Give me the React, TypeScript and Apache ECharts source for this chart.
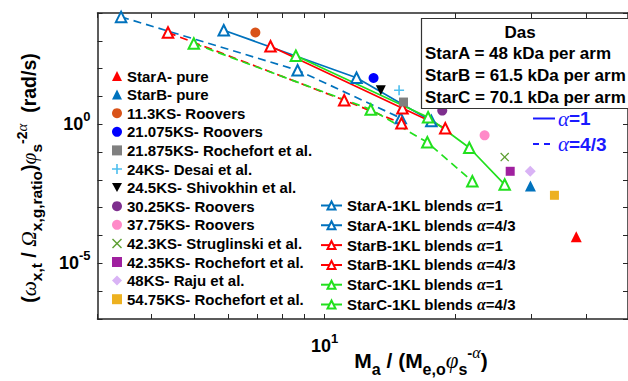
import React, { useEffect, useRef } from "react";
import * as echarts from "echarts";

const FONT = '"Liberation Sans", Arial, Helvetica, sans-serif';
const SERIF = '"Liberation Serif", "DejaVu Serif", serif';

// Axis ranges and ticks
const X_MIN = 3;
const X_MAX = 50;
const Y_MIN = 1e-7;
const Y_MAX = 1e4;
const xTickValues = [3, 4, 5, 6, 7, 8, 9, 10, 20, 30, 40, 50];
const xLabelValues = [10];
const yTickValues = [1e-7, 1e-6, 1e-5, 1e-4, 1e-3, 1e-2, 1e-1, 1, 10, 100, 1000, 1e4];
const yLabelValues = [1e-5, 1];

// Literature / pure star points (one point each)
const pointNames = [
  "StarA- pure",
  "StarB- pure",
  "11.3KS- Roovers",
  "21.075KS- Roovers",
  "21.875KS- Rochefort et al.",
  "24KS- Desai et al.",
  "24.5KS- Shivokhin et al.",
  "30.25KS- Roovers",
  "37.75KS- Roovers",
  "42.3KS- Struglinski et al.",
  "42.35KS- Rochefort et al.",
  "48KS- Raju et al.",
  "54.75KS- Rochefort et al.",
];
const pointX = [38.0, 29.8, 6.93, 12.97, 15.2, 14.85, 13.48, 18.67, 23.37, 26.0, 26.77, 29.77, 33.85];
const pointY = [9.0e-5, 0.0061, 1990, 46, 6.3, 16.7, 16.7, 3.1, 0.4, 0.066, 0.0204, 0.0204, 0.0028];

// Blend series
const blendNames = [
  "StarA-1KL blends α=1",
  "StarA-1KL blends α=4/3",
  "StarB-1KL blends α=1",
  "StarB-1KL blends α=4/3",
  "StarC-1KL blends α=1",
  "StarC-1KL blends α=4/3",
];
const starA_a1 = [[5.86, 2405], [11.85, 47], [17.62, 1.31]];
const starA_a43 = [[3.4, 7240], [8.67, 87.6], [14.98, 1.67]];
const starB_a1 = [[7.51, 640], [15.12, 3.76], [18.97, 0.72]];
const starB_a43 = [[4.36, 1990], [11.1, 7.3], [15.04, 1.09]];
const starC_a1 = [[8.59, 291], [17.32, 1.79], [21.55, 0.143], [26.0, 0.0068]];
const starC_a43 = [[5.0, 800], [12.78, 3.4], [17.25, 0.225], [21.9, 0.0089]];
const blendData = [starA_a1, starA_a43, starB_a1, starB_a43, starC_a1, starC_a43];

// Text content
const dasLines = ["StarA = 48 kDa per arm", "StarB = 61.5 kDa per arm", "StarC = 70.1 kDa per arm"];

// Styles
const PLUS = "path://M4.2,0H5.8V4.2H10V5.8H5.8V10H4.2V5.8H0V4.2H4.2Z";
const CROSS = "path://M1,0L5,4L9,0L10,1L6,5L10,9L9,10L5,6L1,10L0,9L4,5L0,1Z";
const DOWN = "path://M0,0L10,0L5,9Z";
const pointColors = ["#FF0000", "#0072BD", "#D95319", "#0000FF", "#808080", "#4DBEEE", "#000000", "#7E2F8E", "#FF8AC8", "#5C9E30", "#A0209F", "#D9B3F5", "#EDB120"];
const pointSymbols = ["triangle", "triangle", "circle", "circle", "rect", PLUS, DOWN, "circle", "circle", CROSS, "rect", "diamond", "rect"];
const pointSizes = [11, 11, 10, 10, 9, 10, 10, 10, 10, 9, 9, 11, 9];
const blendColors = ["#0072BD", "#0072BD", "#FF0000", "#FF0000", "#22E01E", "#22E01E"];
const blendDashed = [false, true, false, true, false, true];

const GRID = { left: 97.5, top: 13, width: 535, height: 306 };
const AXIS_COLOR = "#262626";

const supRich = {
  b: { fontSize: 18, fontWeight: "bold", fontFamily: FONT, color: "#000" },
  p: { fontSize: 13, fontWeight: "bold", fontFamily: FONT, color: "#000", padding: [0, 0, 15, 0] },
};

function isClose(a: number, b: number) {
  return Math.abs(Math.log10(a) - Math.log10(b)) < 1e-6;
}

function makeXAxis(position: "bottom" | "top", showLabel: boolean) {
  return {
    type: "log",
    logBase: 10,
    min: X_MIN,
    max: X_MAX,
    position,
    axisLine: { show: true, onZero: false, lineStyle: { color: AXIS_COLOR, width: 1.5 } },
    axisTick: { show: true, inside: true, length: 5, customValues: xTickValues, lineStyle: { color: AXIS_COLOR, width: 1 } },
    axisLabel: {
      show: showLabel,
      customValues: xLabelValues,
      margin: 13,
      formatter: (v: number) => (isClose(v, 10) ? "{b|10}{p|1}" : ""),
      rich: supRich,
    },
    splitLine: { show: false },
  };
}

function makeYAxis(position: "left" | "right", showLabel: boolean) {
  return {
    type: "log",
    logBase: 10,
    min: Y_MIN,
    max: Y_MAX,
    position,
    axisLine: { show: true, onZero: false, lineStyle: { color: AXIS_COLOR, width: 1.5 } },
    axisTick: { show: true, inside: true, length: 5, customValues: yTickValues, lineStyle: { color: AXIS_COLOR, width: 1 } },
    axisLabel: {
      show: showLabel,
      customValues: yLabelValues,
      margin: 7,
      formatter: (v: number) => "{b|10}{p|" + Math.round(Math.log10(v)) + "}",
      rich: supRich,
    },
    splitLine: { show: false },
  };
}

export default function App() {
  const ref = useRef<HTMLDivElement>(null);

  useEffect(() => {
    if (!ref.current) return;
    const chart = echarts.init(ref.current, null, { renderer: "svg" });

    const scatterSeries = pointNames.map((name, i) => ({
      type: "scatter",
      name,
      xAxisIndex: 0,
      yAxisIndex: 0,
      symbol: pointSymbols[i],
      symbolSize: pointSizes[i],
      itemStyle: { color: pointColors[i], opacity: 1 },
      data: [[pointX[i], pointY[i]]],
      z: 3,
    }));

    const lineSeries = blendNames.map((name, i) => ({
      type: "line",
      name,
      xAxisIndex: 0,
      yAxisIndex: 0,
      symbol: "emptyTriangle",
      symbolSize: 10.5,
      showAllSymbol: true,
      lineStyle: { color: blendColors[i], width: 1.7, type: blendDashed[i] ? [8, 5] : "solid" },
      itemStyle: { color: blendColors[i], borderColor: blendColors[i], borderWidth: 1.5 },
      data: blendData[i],
      z: 2,
    }));

    const legendText = {
      fontSize: 15,
      fontWeight: "bold",
      fontFamily: FONT,
      color: "#000",
    };

    const textBold = (size: number) => ({ fontSize: size, fontWeight: "bold", fontFamily: FONT, fill: "#000" });

    chart.setOption({
      animation: false,
      backgroundColor: "#fff",
      grid: { ...GRID, containLabel: false },
      xAxis: [makeXAxis("bottom", true), makeXAxis("top", false)],
      yAxis: [makeYAxis("left", true), makeYAxis("right", false)],
      legend: [
        {
          data: pointNames,
          orient: "vertical",
          left: 112,
          top: 68.5,
          itemWidth: 10,
          itemHeight: 10,
          itemGap: 3.6,
          selectedMode: false,
          padding: 0,
          textStyle: legendText,
        },
        {
          data: blendNames,
          orient: "vertical",
          left: 320,
          top: 197.5,
          itemWidth: 21,
          itemHeight: 10,
          itemGap: 3.8,
          selectedMode: false,
          padding: 0,
          formatter: (name: string) => {
            const idx = name.indexOf("α");
            return "{t|" + name.slice(0, idx) + "}{g|α}{t|" + name.slice(idx + 1) + "}";
          },
          textStyle: {
            ...legendText,
            rich: {
              t: { ...legendText },
              g: { fontSize: 16, fontStyle: "italic", fontFamily: SERIF, color: "#000" },
            },
          },
        },
      ],
      graphic: [
        {
          type: "rect",
          z: 100,
          shape: { x: 421.5, y: 18.5, width: 230, height: 90 },
          style: { fill: "#fff", stroke: "#333", lineWidth: 1.2 },
        },
        {
          type: "text",
          z: 101,
          x: 520,
          y: 32,
          style: { text: "Das", ...textBold(17), align: "center", verticalAlign: "middle" },
        },
        ...dasLines.map((t, i) => ({
          type: "text",
          z: 101,
          x: 425,
          y: 53.5 + i * 22,
          style: { text: t, ...textBold(17), align: "left", verticalAlign: "middle" },
        })),
        {
          type: "line",
          z: 101,
          shape: { x1: 533, y1: 118.5, x2: 555, y2: 118.5 },
          style: { stroke: "#1a1aff", lineWidth: 2 },
        },
        {
          type: "line",
          z: 101,
          shape: { x1: 533, y1: 144, x2: 555, y2: 144 },
          style: { stroke: "#1a1aff", lineWidth: 2, lineDash: [6, 5] },
        },
        {
          type: "text",
          z: 101,
          x: 558,
          y: 118.5,
          style: {
            text: "{g|α}{t|=1}",
            align: "left",
            verticalAlign: "middle",
            rich: {
              g: { fontSize: 21, fontStyle: "italic", fontFamily: SERIF, fill: "#1a1aff" },
              t: { fontSize: 19, fontWeight: "bold", fontFamily: FONT, fill: "#1a1aff" },
            },
          },
        },
        {
          type: "text",
          z: 101,
          x: 558,
          y: 144,
          style: {
            text: "{g|α}{t|=4/3}",
            align: "left",
            verticalAlign: "middle",
            rich: {
              g: { fontSize: 21, fontStyle: "italic", fontFamily: SERIF, fill: "#1a1aff" },
              t: { fontSize: 19, fontWeight: "bold", fontFamily: FONT, fill: "#1a1aff" },
            },
          },
        },
        // X axis title
        {
          type: "text",
          z: 101,
          x: 421,
          y: 360,
          style: {
            text: "{m|M}{s|a}{m| / (M}{s|e,o}{g|φ}{s|s}{p|-}{pg|α}{m|)}",
            align: "center",
            verticalAlign: "middle",
            rich: {
              m: { ...textBold(21) },
              s: { ...textBold(16), padding: [18, 0, 0, 0] },
              p: { ...textBold(15), padding: [0, 0, 16, 0] },
              g: { fontSize: 23, fontStyle: "italic", fontFamily: SERIF, fill: "#000" },
              pg: { fontSize: 16, fontStyle: "italic", fontFamily: SERIF, fill: "#000", padding: [0, 0, 16, 0] },
            },
          },
        },
        // Y axis title
        {
          type: "text",
          z: 101,
          x: 29,
          y: 178,
          rotation: Math.PI / 2,
          style: {
            text: "{m|(}{g|ω}{s|x,t}{m| / }{g|Ω}{s|x,g,ratio}{m|)}{g|φ}{s|s}{p|-2}{pg|α}{m|  (rad/s)}",
            align: "center",
            verticalAlign: "middle",
            rich: {
              m: { ...textBold(19.5) },
              s: { ...textBold(15.5), padding: [14, 0, 0, 0] },
              p: { ...textBold(14), padding: [0, 0, 15, 0] },
              g: { fontSize: 21.5, fontStyle: "italic", fontFamily: SERIF, fill: "#000" },
              pg: { fontSize: 15, fontStyle: "italic", fontFamily: SERIF, fill: "#000", padding: [0, 0, 15, 0] },
            },
          },
        },
      ],
      series: [...lineSeries, ...scatterSeries],
    });

    return () => chart.dispose();
  }, []);

  return (
    <div
      ref={ref}
      style={{ position: "fixed", left: 0, top: 0, width: 628, height: 381, background: "#fff" }}
    />
  );
}
